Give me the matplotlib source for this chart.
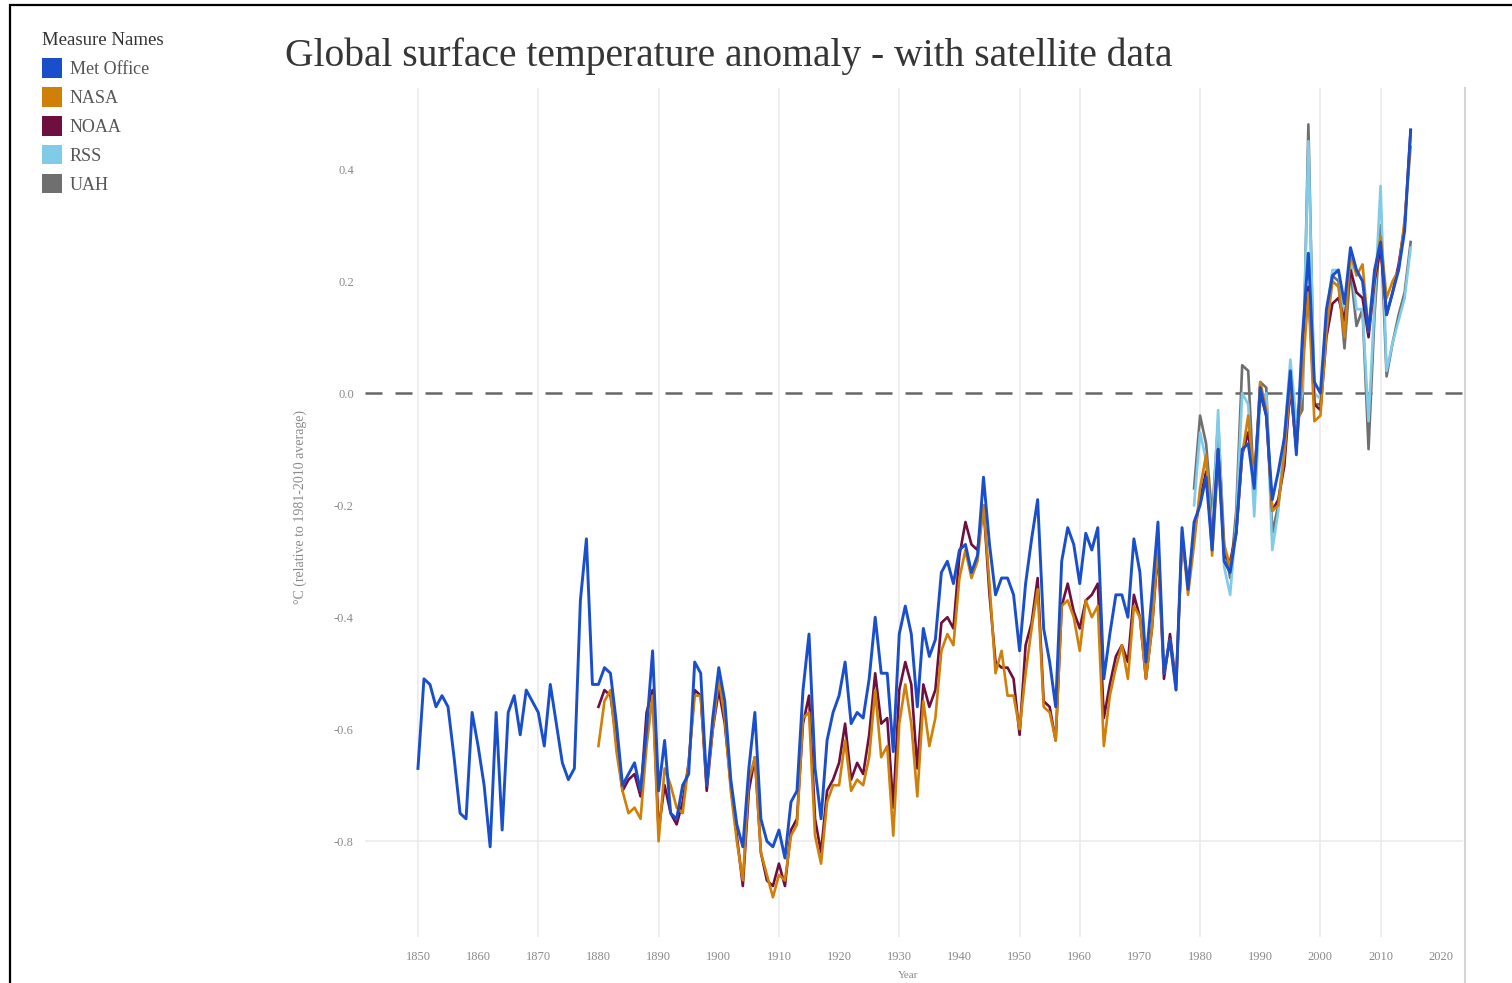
import numpy as np
import matplotlib
matplotlib.use("Agg")
import matplotlib.pyplot as plt
from matplotlib.patches import Patch, Rectangle
from matplotlib.lines import Line2D

plt.rcParams['font.family'] = ['Liberation Serif', 'DejaVu Serif']

# ---- data (annual anomalies, °C relative to 1981-2010) ----
met_years = list(range(1850, 2016))
met_office = [
    -0.67, -0.51, -0.52, -0.56, -0.54, -0.56, -0.65, -0.75, -0.76, -0.57,
    -0.63, -0.70, -0.81, -0.57, -0.78, -0.57, -0.54, -0.61, -0.53, -0.55,
    -0.57, -0.63, -0.52, -0.59, -0.66, -0.69, -0.67, -0.37, -0.26, -0.52,
    -0.52, -0.49, -0.50, -0.59, -0.70, -0.68, -0.66, -0.71, -0.60, -0.46,
    -0.71, -0.62, -0.75, -0.76, -0.70, -0.68, -0.48, -0.50, -0.70, -0.58,
    -0.49, -0.55, -0.69, -0.77, -0.81, -0.67, -0.57, -0.76, -0.80, -0.81,
    -0.78, -0.83, -0.73, -0.71, -0.53, -0.43, -0.67, -0.76, -0.62, -0.57,
    -0.54, -0.48, -0.59, -0.57, -0.58, -0.51, -0.40, -0.50, -0.50, -0.64,
    -0.43, -0.38, -0.43, -0.56, -0.42, -0.47, -0.44, -0.32, -0.30, -0.34,
    -0.28, -0.27, -0.32, -0.29, -0.15, -0.27, -0.36, -0.33, -0.33, -0.36,
    -0.46, -0.34, -0.26, -0.19, -0.42, -0.48, -0.56, -0.30, -0.24, -0.27,
    -0.34, -0.25, -0.28, -0.24, -0.51, -0.43, -0.36, -0.36, -0.40, -0.26,
    -0.32, -0.48, -0.36, -0.23, -0.50, -0.44, -0.53, -0.24, -0.35, -0.23,
    -0.20, -0.15, -0.28, -0.10, -0.30, -0.32, -0.25, -0.10, -0.09, -0.17,
    0.01, -0.04, -0.19, -0.14, -0.08, 0.04, -0.11, 0.10, 0.25, 0.02,
    0.00, 0.15, 0.21, 0.22, 0.16, 0.26, 0.22, 0.20, 0.11, 0.22,
    0.27, 0.14, 0.18, 0.22, 0.29, 0.47,
]

surf_years = list(range(1880, 2016))
nasa = [
    -0.63, -0.55, -0.53, -0.64, -0.71, -0.75, -0.74, -0.76, -0.63, -0.54,
    -0.80, -0.67, -0.70, -0.74, -0.75, -0.66, -0.54, -0.54, -0.70, -0.60,
    -0.51, -0.58, -0.71, -0.80, -0.87, -0.69, -0.65, -0.82, -0.86, -0.90,
    -0.86, -0.87, -0.79, -0.77, -0.58, -0.57, -0.79, -0.84, -0.73, -0.70,
    -0.70, -0.62, -0.71, -0.69, -0.70, -0.65, -0.53, -0.65, -0.63, -0.79,
    -0.59, -0.52, -0.59, -0.72, -0.55, -0.63, -0.58, -0.46, -0.43, -0.45,
    -0.33, -0.28, -0.33, -0.30, -0.20, -0.34, -0.50, -0.46, -0.54, -0.54,
    -0.60, -0.50, -0.42, -0.35, -0.56, -0.57, -0.62, -0.38, -0.37, -0.40,
    -0.46, -0.37, -0.40, -0.38, -0.63, -0.54, -0.49, -0.45, -0.51, -0.38,
    -0.40, -0.51, -0.42, -0.27, -0.50, -0.44, -0.53, -0.25, -0.36, -0.27,
    -0.17, -0.11, -0.29, -0.12, -0.27, -0.31, -0.25, -0.11, -0.04, -0.16,
    0.02, -0.03, -0.21, -0.20, -0.11, 0.02, -0.10, 0.03, 0.18, -0.05,
    -0.04, 0.11, 0.20, 0.19, 0.10, 0.25, 0.21, 0.23, 0.11, 0.21,
    0.28, 0.17, 0.20, 0.22, 0.31, 0.44,
]
noaa = [
    -0.56, -0.53, -0.54, -0.62, -0.71, -0.69, -0.68, -0.72, -0.57, -0.53,
    -0.78, -0.70, -0.75, -0.77, -0.73, -0.66, -0.53, -0.54, -0.71, -0.60,
    -0.53, -0.59, -0.70, -0.79, -0.88, -0.71, -0.65, -0.82, -0.87, -0.88,
    -0.84, -0.88, -0.78, -0.76, -0.59, -0.54, -0.76, -0.82, -0.71, -0.69,
    -0.66, -0.59, -0.69, -0.66, -0.68, -0.61, -0.50, -0.59, -0.58, -0.74,
    -0.53, -0.48, -0.52, -0.67, -0.52, -0.56, -0.53, -0.41, -0.40, -0.42,
    -0.29, -0.23, -0.27, -0.28, -0.20, -0.36, -0.48, -0.49, -0.49, -0.51,
    -0.61, -0.45, -0.41, -0.33, -0.55, -0.56, -0.62, -0.38, -0.34, -0.39,
    -0.42, -0.37, -0.36, -0.34, -0.58, -0.52, -0.47, -0.45, -0.48, -0.36,
    -0.40, -0.51, -0.42, -0.28, -0.51, -0.43, -0.52, -0.26, -0.34, -0.25,
    -0.19, -0.14, -0.27, -0.10, -0.29, -0.30, -0.25, -0.11, -0.07, -0.15,
    0.00, -0.04, -0.21, -0.19, -0.13, 0.01, -0.10, 0.07, 0.19, -0.02,
    -0.03, 0.10, 0.16, 0.17, 0.13, 0.22, 0.18, 0.17, 0.10, 0.20,
    0.26, 0.14, 0.18, 0.23, 0.30, 0.47,
]

sat_years = list(range(1979, 2016))
rss = [
    -0.20, -0.07, -0.12, -0.25, -0.03, -0.31, -0.36, -0.23, 0.00, -0.02,
    -0.22, -0.01, 0.00, -0.28, -0.21, -0.08, 0.06, -0.05, 0.00, 0.45,
    0.00, -0.01, 0.14, 0.22, 0.22, 0.13, 0.24, 0.15, 0.15, -0.05,
    0.16, 0.37, 0.04, 0.09, 0.13, 0.17, 0.26,
]
uah = [
    -0.17, -0.04, -0.09, -0.22, -0.05, -0.27, -0.33, -0.21, 0.05, 0.04,
    -0.18, 0.02, 0.01, -0.25, -0.20, -0.10, 0.03, -0.05, -0.03, 0.48,
    -0.02, -0.02, 0.12, 0.21, 0.20, 0.08, 0.22, 0.12, 0.15, -0.10,
    0.14, 0.30, 0.03, 0.09, 0.14, 0.18, 0.27,
]

series_names = ['Met Office', 'NASA', 'NOAA', 'RSS', 'UAH']
colors = ['#1a4fcb', '#d07f08', '#6d1040', '#7fcbe8', '#6f6f6f']

decade_ticks = list(range(1850, 2030, 10))
grid_years = [1850, 1870, 1890, 1910, 1930, 1950, 1960, 1980, 2000, 2010]
y_ticks = [0.4, 0.2, 0.0, -0.2, -0.4, -0.6, -0.8]

# ---- figure ----
W, H = 1512, 983
fig = plt.figure(figsize=(W / 100, H / 100), dpi=100)


def fx(px):
    return px / W


def fy(py):
    return 1 - py / H


ax_l, ax_r, ax_t, ax_b = 365, 1463, 88, 937
ax = fig.add_axes([fx(ax_l), fy(ax_b), fx(ax_r - ax_l), (ax_b - ax_t) / H])
ax.set_xlim(1841.2, 2023.7)
ax.set_ylim(-0.971, 0.545)

for yr in grid_years:
    ax.axvline(yr, color='#ebebeb', lw=1.2, zorder=0)
ax.axhline(-0.8, color='#ebebeb', lw=1.2, zorder=0)
ax.axhline(0.0, color='#666666', lw=1.8, dashes=(6.8, 5.2), zorder=1)

data = [(met_years, met_office), (surf_years, nasa), (surf_years, noaa),
        (sat_years, rss), (sat_years, uah)]
widths = [2.1, 1.9, 1.9, 1.9, 1.9]
# draw UAH first so Met Office ends up on top
for i in [4, 3, 2, 1, 0]:
    xs, ys = data[i]
    ax.plot(xs, ys, color=colors[i], lw=widths[i], zorder=2 + (4 - i))

for s in ax.spines.values():
    s.set_visible(False)
ax.set_xticks(decade_ticks)
ax.set_xticklabels([str(d) for d in decade_ticks])
ax.set_yticks(y_ticks)
ax.set_yticklabels([f'{v:.1f}' for v in y_ticks])
ax.tick_params(axis='both', length=0, labelsize=9, labelcolor='#8a8a8a')
ax.tick_params(axis='x', pad=10)
ax.tick_params(axis='y', pad=8)

fig.text(fx(300), fy(507), '°C (relative to 1981-2010 average)', rotation=90,
         ha='center', va='center', fontsize=10, color='#8a8a8a')
fig.text(fx(908), fy(975), 'Year', ha='center', va='center', fontsize=8,
         color='#8a8a8a')

# right border of the view, runs to the bottom edge
fig.add_artist(Line2D([fx(1465), fx(1465)], [fy(88), fy(983)],
                      color='#d6d6d6', lw=1.5))

fig.text(fx(285), fy(56), 'Global surface temperature anomaly - with satellite data',
         ha='left', va='center', fontsize=28.5, color='#353535')

handles = [Patch(facecolor=c, edgecolor='none') for c in colors]
leg = fig.legend(handles, series_names, loc='upper left',
                 bbox_to_anchor=(fx(42), fy(32)), frameon=False,
                 title='Measure Names', title_fontsize=13.5, fontsize=13,
                 handlelength=1.1, handleheight=1.3, handletextpad=0.45,
                 labelspacing=0.5, borderpad=0, borderaxespad=0,
                 alignment='left')
for t in leg.get_texts():
    t.set_color('#555555')
leg.get_title().set_color('#333333')

# outer frame of the screenshot
fig.add_artist(Rectangle((fx(10), fy(1010)), fx(1530), (1010 - 5) / H,
                         fill=False, edgecolor='black', lw=1.6))

fig.savefig('out.png', dpi=100)
